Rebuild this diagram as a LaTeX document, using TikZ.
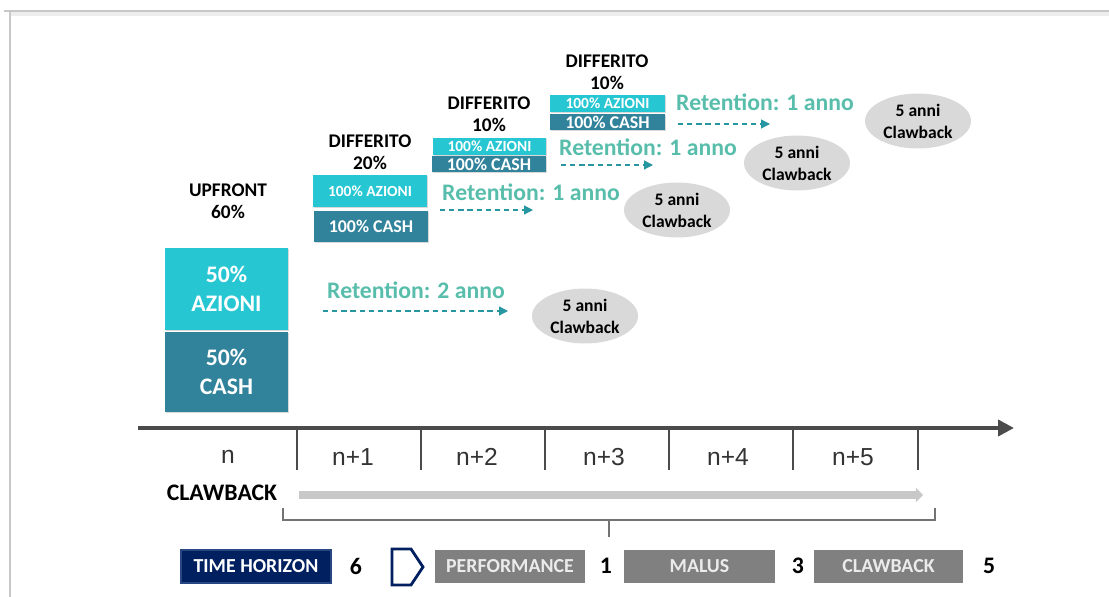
\documentclass[tikz,border=0pt]{standalone}
\usepackage{fontspec}
\setmainfont{Carlito}
\newfontfamily\arialfont{Liberation Sans}
\usepackage{tikz}
\usetikzlibrary{shapes, arrows.meta, positioning, shadows}
\definecolor{azcol}{RGB}{38,199,211}
\definecolor{cashcol}{RGB}{49,130,155}
\definecolor{retcol}{RGB}{88,190,171}
\definecolor{arrcol}{RGB}{38,150,160}
\definecolor{ellcol}{RGB}{217,217,217}
\definecolor{navycol}{RGB}{0,32,96}
\definecolor{navyedge}{RGB}{40,70,130}
\definecolor{boxgray}{RGB}{128,128,128}
\definecolor{axiscol}{RGB}{75,75,75}
\definecolor{barcol}{RGB}{200,200,200}

\begin{document}
\begin{tikzpicture}[x=0.02cm, y=-0.02cm,
  shad/.style={drop shadow={opacity=0.3, shadow xshift=0.6pt, shadow yshift=-0.8pt}},
  big/.style={font=\bfseries\fontsize{13.5}{16.5}\selectfont, text=white, align=center},
  small/.style={font=\bfseries\fontsize{8.8}{10}\selectfont, text=white},
  smallc/.style={font=\bfseries\fontsize{10.2}{11}\selectfont, text=white},
  head/.style={font=\bfseries\fontsize{11}{12.6}\selectfont, align=center},
  ret/.style={font=\bfseries\fontsize{13.5}{16}\selectfont, text=retcol},
  retarrow/.style={arrcol, line width=0.7pt, dash pattern=on 3pt off 2.2pt, -{Triangle[length=5pt,width=5pt]}},
  claw/.style={ellipse, fill=ellcol, minimum width=2.12cm, minimum height=1.1cm, inner sep=0pt, align=center, font=\bfseries\fontsize{10}{12.5}\selectfont},
  yearlbl/.style={font=\arialfont\fontsize{14}{16}\selectfont, text=black!80},
  legend/.style={text=white!92!black, font=\bfseries\fontsize{11.3}{12}\selectfont},
  digit/.style={font=\bfseries\fontsize{13.5}{15}\selectfont}]
 \useasboundingbox (0,0) rectangle (1109,597);
 \draw [black!22, line width=0.6pt] (4,11) -- (1109,11);
 \draw [black!7, line width=2pt] (11,14) -- (1109,14);
 \draw [black!22, line width=0.6pt] (10,11) -- (10,597);
 % upfront
 \node [head] (upfront) at (228,201) {UPFRONT\\60\%};
 \fill [azcol, shad] (165,248) rectangle node [big] (upaz) {50\%\\AZIONI} (288,330);
 \fill [cashcol, shad] (165,332) rectangle node [big] (upcash) {50\%\\CASH} (288,412);
 % deferred parts
 \node [head] (diff1) at (370,152) {DIFFERITO\\20\%};
 \fill [azcol, shad] (313,175) rectangle node [small] (d1az) {100\% AZIONI} (427,207);
 \fill [cashcol, shad] (314,211) rectangle node [smallc] (d1cash) {100\% CASH} (428,242);
 \node [head] (diff2) at (489,114) {DIFFERITO\\10\%};
 \fill [azcol, shad] (433,138) rectangle node [small] (d2az) {100\% AZIONI} (546,155);
 \fill [cashcol, shad] (432,156) rectangle node [smallc] (d2cash) {100\% CASH} (546,172);
 \node [head] (diff3) at (607,72) {DIFFERITO\\10\%};
 \fill [azcol, shad] (550,95) rectangle node [small] (d3az) {100\% AZIONI} (665,112);
 \fill [cashcol, shad] (550,114) rectangle node [smallc] (d3cash) {100\% CASH} (665,130);
 % retention and clawback
 \node [ret] (ret0) at (416,290) {Retention: 2 anno};
 \node [ret] (ret1) at (531,192) {Retention: 1 anno};
 \node [ret] (ret2) at (648,147) {Retention: 1 anno};
 \node [ret] (ret3) at (765,102) {Retention: 1 anno};
 \coordinate (r0s) at (323,311); \coordinate (r0e) at (508,311);
 \coordinate (r1s) at (440,210); \coordinate (r1e) at (533,210);
 \coordinate (r2s) at (561,165); \coordinate (r2e) at (653,165);
 \coordinate (r3s) at (678,124); \coordinate (r3e) at (770,124);
 \draw [retarrow] (r0s) -- (r0e);
 \draw [retarrow] (r1s) -- (r1e);
 \draw [retarrow] (r2s) -- (r2e);
 \draw [retarrow] (r3s) -- (r3e);
 \node [claw] (claw0) at (585,316) {5 anni\\Clawback};
 \node [claw] (claw1) at (677,210) {5 anni\\Clawback};
 \node [claw] (claw2) at (797,163) {5 anni\\Clawback};
 \node [claw] (claw3) at (918,121) {5 anni\\Clawback};
 % time axis
 \coordinate (axs) at (138,428); \coordinate (axe) at (1014,428);
 \draw [axiscol, line width=2.2pt, -{Triangle[length=9pt,width=9pt]}] (axs) -- (axe);
 \foreach \x in {297,421,545,669,793,918}
   \draw [axiscol, line width=1.6pt] (\x,428) -- (\x,470);
 \foreach \x/\t [count=\i] in {228/n, 353/n+1, 477/n+2, 604/n+3, 728/n+4, 853/n+5}
   \node [yearlbl] (year\i) at (\x,457) {\t};
 \node [font=\bfseries\fontsize{13.5}{15}\selectfont] (clawlbl) at (222,493) {CLAWBACK};
 \coordinate (bars) at (299,495); \coordinate (bare) at (923,495);
 \draw [barcol, line width=5pt, -{Triangle[length=4pt,width=8pt]}] (bars) -- (bare);
 \draw [black!55, line width=1pt] (283,508) -- (283,520) -- (935,520) -- (935,508);
 \draw [black!55, line width=1.2pt] (609,520) -- (609,537);
 % legend
 \draw [navyedge, fill=navycol, line width=1pt] (181,550) rectangle node [legend, text=white] (horizon) {TIME HORIZON} (331,583);
 \node [digit] (six) at (356,566) {6};
 \draw [navycol, line width=1.6pt] (392,549) -- (411,549) -- (423,567) -- (411,585) -- (392,585) -- cycle;
 \fill [boxgray] (435,550) rectangle node [legend] (perf) {PERFORMANCE} (585,583);
 \node [digit] (one) at (606,566) {1};
 \fill [boxgray] (624,550) rectangle node [legend] (malus) {MALUS} (775,583);
 \node [digit] (three) at (798,566) {3};
 \fill [boxgray] (814,550) rectangle node [legend] (clawbox) {CLAWBACK} (963,583);
 \node [digit] (five) at (989,566) {5};
\end{tikzpicture}
\end{document}
